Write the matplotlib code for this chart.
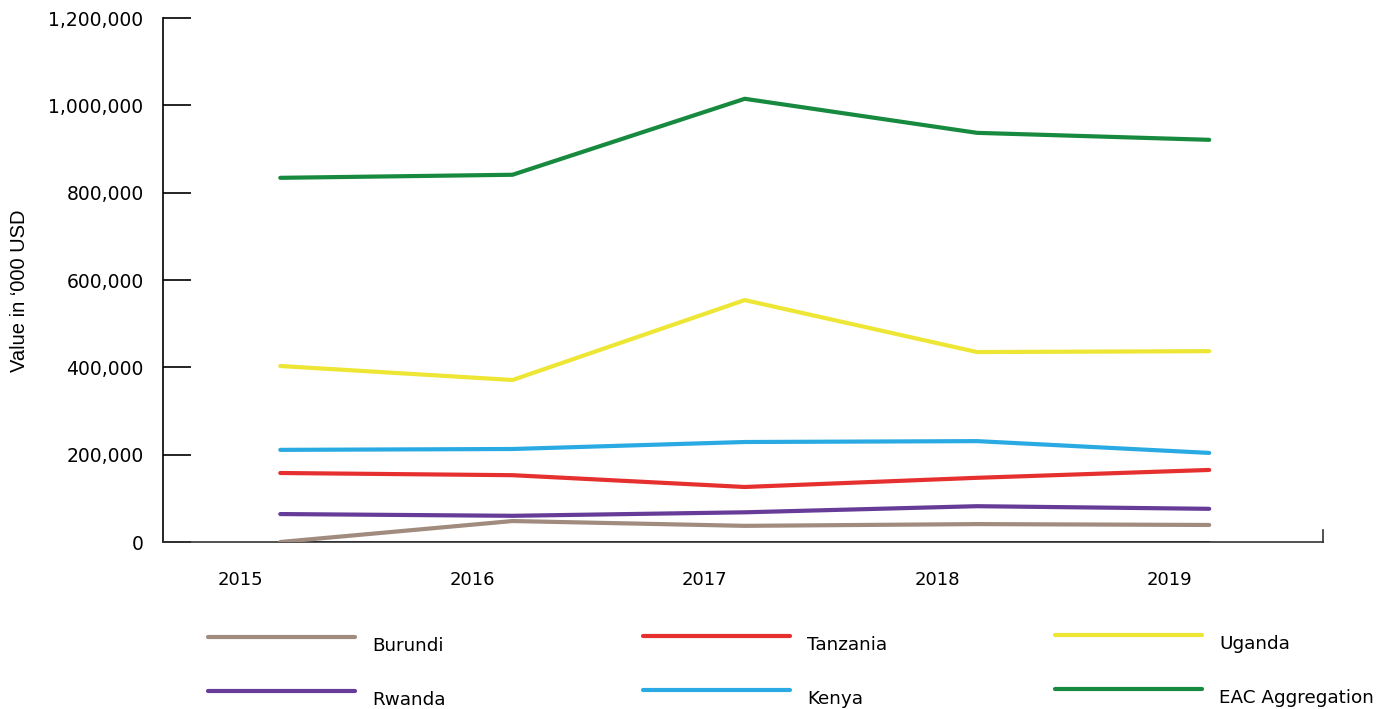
import matplotlib.pyplot as plt
from matplotlib.lines import Line2D
from matplotlib.ticker import FuncFormatter
import matplotlib.transforms as mtransforms

# Data (values in '000 USD)
years = ["2015", "2016", "2017", "2018", "2019"]
burundi = [0, 48000, 37000, 41000, 39000]
rwanda = [64000, 60000, 68000, 82000, 76000]
tanzania = [158000, 153000, 126000, 147000, 165000]
kenya = [211000, 213000, 229000, 231000, 204000]
uganda = [403000, 371000, 554000, 435000, 437000]
eac = [834000, 841000, 1015000, 937000, 921000]
baseline = [0, 0, 0, 0, 0]

series_names = ["Burundi", "Rwanda", "Tanzania", "Kenya", "Uganda", "EAC Aggregation"]
series_values = [burundi, rwanda, tanzania, kenya, uganda, eac]
series_colors = ["#a08b7e", "#673b98", "#e6302f", "#2aaae2", "#ede634", "#178a3f"]

W, H = 1380, 709
fig = plt.figure(figsize=(W / 100, H / 100), dpi=100)
ax = fig.add_axes([163 / W, 1 - 542 / H, (1323 - 163) / W, (542 - 18) / H])

x = list(range(len(years)))

ax.plot(x, baseline, color="black", lw=1.2, zorder=2)
for name, vals, col in zip(series_names, series_values, series_colors):
    ax.plot(x, vals, color=col, lw=3, solid_capstyle="round", zorder=3)

ax.set_xlim(-0.505, 4.49)
ax.set_ylim(0, 1200000)

# spines
for s in ["top", "right"]:
    ax.spines[s].set_visible(False)
ax.spines["left"].set_linewidth(1.2)
ax.spines["bottom"].set_linewidth(1.2)
ax.spines["bottom"].set_color("#333333")
ax.plot([1, 1], [0, 12 / 524], transform=ax.transAxes, color="#333333", lw=1.2, clip_on=False)

# y ticks point inward
ax.set_yticks(range(0, 1200001, 200000))
ax.yaxis.set_major_formatter(FuncFormatter(lambda v, p: f"{int(v):,}"))
ax.tick_params(axis="y", direction="in", length=20, width=1.2, pad=14, labelsize=13.5)

# x labels shifted left of the data points
ax.set_xticks(x)
ax.set_xticklabels(years)
ax.tick_params(axis="x", length=0, pad=21, labelsize=13)
offset = mtransforms.ScaledTranslation(-40 / 100, 0, fig.dpi_scale_trans)
for lbl in ax.get_xticklabels():
    lbl.set_transform(lbl.get_transform() + offset)

fig.text(20 / W, 1 - 291 / H, "Value in \u2018000 USD", rotation=90, ha="center", va="center",
         fontsize=14.5, family=["Liberation Sans", "DejaVu Sans"])

# manual legend
leg_pos = [(208, 637), (208, 691), (643, 636), (643, 690), (1055, 635), (1055, 689)]
for (lx, ly), name, col in zip(leg_pos, series_names, series_colors):
    fig.add_artist(Line2D([lx / W, (lx + 147) / W], [1 - ly / H, 1 - ly / H], color=col, lw=3,
                          solid_capstyle="round"))
    fig.text((lx + 164) / W, 1 - (ly + 9) / H, name, ha="left", va="center", fontsize=13.2)

fig.savefig("out.png", dpi=100)
